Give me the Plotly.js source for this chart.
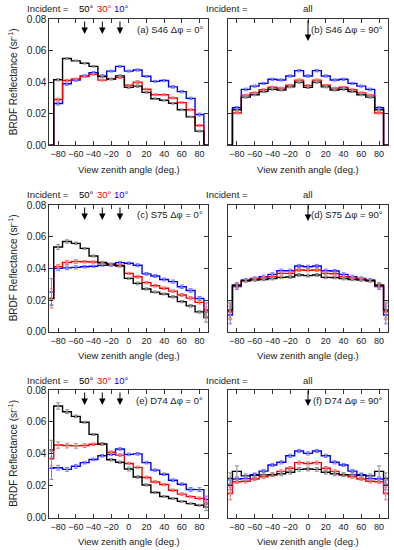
<!DOCTYPE html>
<html><head><meta charset="utf-8">
<script src="https://cdn.plot.ly/plotly-3.0.1.min.js"></script>
<style>html,body{margin:0;padding:0;background:#fff}#chart{width:394px;height:550px}</style>
</head><body><div id="chart"></div>
<script>
// Bin edges (deg): edge half-bins at ±87.5, then 10-degree bins centred on -80..80
const binEdges = [-90,-85,-75,-65,-55,-45,-35,-25,-15,-5,5,15,25,35,45,55,65,75,85,90];
const xTickVals = [-80,-60,-40,-20,0,20,40,60,80];
const incidentAngles = [50,30,10];

// (a) S46, dphi = 0
const aBlack = [0,0.0415,0.055,0.0535,0.052,0.050,0.0435,0.042,0.044,0.0367,0.0375,0.0335,0.0295,0.0285,0.0266,0.0225,0.018,0.009,0];
const aRed   = [0,0.029,0.041,0.042,0.0435,0.045,0.0413,0.042,0.043,0.038,0.040,0.0355,0.032,0.032,0.030,0.027,0.0225,0.0125,0];
const aBlue  = [0,0.0265,0.039,0.0413,0.044,0.046,0.044,0.047,0.050,0.047,0.0477,0.0437,0.0405,0.041,0.037,0.034,0.0297,0.0195,0];
const aBlackErr = [0,0.0007,0.0005,0.0005,0.0005,0.0005,0.0006,0.0005,0.0006,0.0006,0.0008,0.0005,0.0005,0.0005,0.0005,0.0005,0.0005,0.0006,0];
const aRedErr   = [0,0.0008,0.0006,0.0006,0.0006,0.0006,0.0006,0.0006,0.0006,0.0006,0.0009,0.0006,0.0006,0.0006,0.0006,0.0006,0.0006,0.0007,0];
const aBlueErr  = [0,0.0010,0.0012,0.0008,0.0007,0.0007,0.0007,0.0006,0.0006,0.0006,0.0007,0.0006,0.0006,0.0007,0.0008,0.0008,0.0008,0.0009,0];

// (b) S46, dphi = 90
const bBlack = [0,0.0225,0.0305,0.032,0.034,0.0355,0.035,0.037,0.040,0.0367,0.040,0.037,0.035,0.0355,0.034,0.032,0.0305,0.0225,0];
const bRed   = [0,0.0205,0.0318,0.0332,0.0352,0.0368,0.0362,0.038,0.0413,0.0378,0.0413,0.038,0.0362,0.0368,0.0352,0.0332,0.0318,0.0205,0];
const bBlue  = [0,0.0238,0.0354,0.0375,0.0392,0.0418,0.0414,0.0439,0.0473,0.0439,0.0473,0.0439,0.0414,0.0418,0.0392,0.0375,0.0354,0.0238,0];
const bBlackErr = [0,0.0007,0.0006,0.0006,0.0006,0.0006,0.0006,0.0006,0.0007,0.0007,0.0007,0.0006,0.0006,0.0006,0.0006,0.0006,0.0006,0.0007,0];
const bRedErr   = [0,0.0007,0.0006,0.0006,0.0006,0.0006,0.0006,0.0006,0.0007,0.0007,0.0007,0.0006,0.0006,0.0006,0.0006,0.0006,0.0006,0.0007,0];
const bBlueErr  = [0,0.0008,0.0008,0.0007,0.0007,0.0007,0.0007,0.0007,0.0008,0.0008,0.0008,0.0007,0.0007,0.0007,0.0007,0.0007,0.0008,0.0008,0];

// (c) S75, dphi = 0
const cBlack = [0.021,0.0535,0.057,0.0558,0.0526,0.0478,0.0437,0.0427,0.0415,0.0337,0.0305,0.027,0.025,0.0238,0.022,0.019,0.0163,0.0125,0.009];
const cRed   = [0.021,0.041,0.0437,0.0443,0.0442,0.044,0.0433,0.0425,0.042,0.0368,0.0347,0.031,0.029,0.0274,0.0256,0.0232,0.0212,0.0185,0.0125];
const cBlue  = [0.025,0.040,0.0403,0.0406,0.041,0.0413,0.042,0.042,0.0436,0.0432,0.042,0.0365,0.0352,0.033,0.0316,0.0284,0.026,0.021,0.0137];
const cBlackErr = [0.004,0.0015,0.001,0.0008,0.0006,0.0006,0.0007,0.0006,0.0008,0.0006,0.0009,0.0007,0.0006,0.0006,0.0007,0.0007,0.0008,0.0008,0.003];
const cRedErr   = [0.006,0.0015,0.0013,0.0012,0.0008,0.0008,0.0008,0.0008,0.0008,0.0007,0.0009,0.0008,0.0008,0.0008,0.0008,0.0009,0.001,0.001,0.003];
const cBlueErr  = [0.0085,0.0015,0.0012,0.001,0.0008,0.0007,0.0007,0.0008,0.0008,0.0008,0.0009,0.0009,0.0009,0.0009,0.001,0.0011,0.0012,0.0012,0.0045];

// (d) S75, dphi = 90
const dBlack = [0.0137,0.0295,0.0322,0.0326,0.033,0.0335,0.0343,0.0345,0.0358,0.0354,0.0358,0.0343,0.0342,0.0335,0.033,0.0326,0.0322,0.0295,0.0137];
const dRed   = [0.0126,0.029,0.0322,0.0333,0.034,0.0347,0.0368,0.0368,0.039,0.0388,0.039,0.0368,0.0366,0.0347,0.034,0.0333,0.0322,0.029,0.0126];
const dBlue  = [0.0105,0.0285,0.0326,0.0337,0.0347,0.0362,0.0385,0.0385,0.0415,0.041,0.0415,0.0385,0.0383,0.0362,0.0347,0.0337,0.0326,0.0285,0.0105];
const dBlackErr = [0.005,0.0015,0.0008,0.0008,0.0008,0.0008,0.0008,0.0008,0.0009,0.0009,0.0009,0.0008,0.0008,0.0008,0.0008,0.0008,0.0008,0.0015,0.005];
const dRedErr   = [0.005,0.0015,0.0009,0.0009,0.0009,0.0009,0.0009,0.0009,0.001,0.001,0.001,0.0009,0.0009,0.0009,0.0009,0.0009,0.0009,0.0015,0.005];
const dBlueErr  = [0.0055,0.0018,0.001,0.001,0.001,0.001,0.001,0.001,0.001,0.001,0.001,0.001,0.001,0.001,0.001,0.001,0.001,0.0018,0.0055];

// (e) D74, dphi = 0
const eBlack = [0.0425,0.070,0.0664,0.0635,0.0598,0.0522,0.0462,0.0363,0.0347,0.0305,0.0255,0.0205,0.0158,0.0133,0.012,0.0102,0.0088,0.0078,0.0065];
const eRed   = [0.037,0.0455,0.0452,0.045,0.0452,0.046,0.0462,0.041,0.0392,0.034,0.0315,0.0252,0.0224,0.0208,0.0172,0.0148,0.0132,0.0121,0.0086];
const eBlue  = [0.031,0.0313,0.0303,0.0322,0.0345,0.0365,0.0388,0.0397,0.043,0.0397,0.040,0.0345,0.0298,0.0272,0.0235,0.021,0.0177,0.0176,0.0115];
const eBlackErr = [0.006,0.002,0.0012,0.0008,0.0006,0.0006,0.0008,0.0008,0.0008,0.0012,0.0008,0.0007,0.0006,0.0005,0.0005,0.0005,0.0005,0.0006,0.002];
const eRedErr   = [0.0045,0.002,0.0015,0.0015,0.0012,0.0008,0.0008,0.0008,0.0008,0.0008,0.0008,0.0008,0.0008,0.0008,0.0008,0.0008,0.0008,0.0009,0.002];
const eBlueErr  = [0.007,0.0015,0.0012,0.0012,0.0008,0.0008,0.0008,0.0008,0.0008,0.0008,0.0008,0.0008,0.0008,0.0008,0.0008,0.0008,0.0012,0.0012,0.002];

// (f) D74, dphi = 90
const fBlack = [0.0246,0.029,0.0262,0.0265,0.0268,0.027,0.0275,0.0285,0.0303,0.0305,0.0303,0.0285,0.0275,0.027,0.0268,0.0265,0.0262,0.029,0.0246];
const fRed   = [0.0152,0.0225,0.0228,0.0242,0.0257,0.0267,0.029,0.031,0.0345,0.034,0.0345,0.031,0.029,0.0267,0.0257,0.0242,0.0228,0.0225,0.0152];
const fBlue  = [0.0205,0.0242,0.0245,0.027,0.0292,0.033,0.0347,0.0388,0.0418,0.0403,0.0418,0.0388,0.0347,0.033,0.0292,0.027,0.0245,0.0242,0.0205];
const fBlackErr = [0.0035,0.0035,0.0012,0.0012,0.0012,0.0012,0.0012,0.0012,0.0012,0.0012,0.0012,0.0012,0.0012,0.0012,0.0012,0.0012,0.0012,0.0035,0.0035];
const fRedErr   = [0.004,0.0012,0.001,0.001,0.001,0.001,0.001,0.001,0.001,0.001,0.001,0.001,0.001,0.001,0.001,0.001,0.001,0.0012,0.004];
const fBlueErr  = [0.003,0.0012,0.001,0.001,0.001,0.001,0.001,0.001,0.001,0.001,0.001,0.001,0.001,0.001,0.001,0.001,0.001,0.0012,0.003];

const panelLabels = ['(a) S46 Δφ = 0°','(b) S46 Δφ = 90°','(c) S75 Δφ = 0°','(d) S75 Δφ = 90°','(e) D74 Δφ = 0°','(f) D74 Δφ = 90°'];

const panels = [
  {black:aBlack,red:aRed,blue:aBlue,be:aBlackErr,re:aRedErr,ue:aBlueErr},
  {black:bBlack,red:bRed,blue:bBlue,be:bBlackErr,re:bRedErr,ue:bBlueErr},
  {black:cBlack,red:cRed,blue:cBlue,be:cBlackErr,re:cRedErr,ue:cBlueErr},
  {black:dBlack,red:dRed,blue:dBlue,be:dBlackErr,re:dRedErr,ue:dBlueErr},
  {black:eBlack,red:eRed,blue:eBlue,be:eBlackErr,re:eRedErr,ue:eBlueErr},
  {black:fBlack,red:fRed,blue:fBlue,be:fBlackErr,re:fRedErr,ue:fBlueErr}
];

// ---- styling / geometry ----
const W = 394, H = 550;
const FONT = 'Liberation Sans, Arial, Helvetica, sans-serif';
const colPx = [[49.3,208.3],[228,388]];
const rowPx = [[19,145.3],[205,331.7],[390,517.7]];
const px2x = p => p / W;
const px2y = p => 1 - p / H;
const lineColors = {black:'#000000', red:'#ff0000', blue:'#0000ff'};
const errColors  = {black:'#8c8c8c', red:'#f07878', blue:'#7a7aff'};
const angleColors = ['#000000','#ff0000','#0000ff'];

const centers = binEdges.slice(0,-1).map((e,i)=>(e+binEdges[i+1])/2);

const traces = [];
const layout = {
  width: W, height: H, margin:{l:0,r:0,t:0,b:0},
  paper_bgcolor:'#fff', plot_bgcolor:'#fff', showlegend:false,
  font:{family:FONT, size:10, color:'#222'},
  annotations: []
};

panels.forEach((p, i) => {
  const n = i + 1, sfx = n === 1 ? '' : String(n);
  const col = i % 2, row = Math.floor(i / 2);
  const [x0, x1] = colPx[col], [y0, y1] = rowPx[row];
  layout['xaxis' + sfx] = {
    domain:[px2x(x0), px2x(x1)], range:[-90,90], anchor:'y' + sfx,
    tickvals: xTickVals, tickangle:0, ticks:'inside', ticklen:4, tickwidth:1, tickcolor:'#333',
    showline:true, linecolor:'#333', linewidth:1, mirror:'ticks',
    showgrid:false, zeroline:false, fixedrange:true,
    tickfont:{size:9, color:'#222', family:FONT}
  };
  layout['yaxis' + sfx] = {
    domain:[px2y(y1), px2y(y0)], range:[0,0.08], anchor:'x' + sfx,
    dtick:0.02, tick0:0, tickformat:'.2f', ticks:'inside', ticklen:4, tickwidth:1, tickcolor:'#333',
    showline:true, linecolor:'#333', linewidth:1, mirror:'ticks',
    showgrid:false, zeroline:false, fixedrange:true, showticklabels: col === 0,
    tickfont:{size:10, color:'#222', family:FONT}
  };
  ['blue','red','black'].forEach(k => {
    const v = p[k];
    traces.push({type:'scatter', mode:'lines', x:binEdges, y:v.concat([v[v.length-1]]),
      xaxis:'x'+sfx, yaxis:'y'+sfx, line:{shape:'hv', color:lineColors[k], width:1.4}, hoverinfo:'skip'});
  });
  [['blue','ue'],['red','re'],['black','be']].forEach(([k,ek]) => {
    const v = p[k], e = p[ek];
    traces.push({type:'scatter', mode:'markers', x:centers, y:v.map((val,j)=> e[j] > 0 ? val : null),
      xaxis:'x'+sfx, yaxis:'y'+sfx, marker:{size:2, color:errColors[k]},
      error_y:{type:'data', array:e, visible:true, color:errColors[k], thickness:1, width:2},
      hoverinfo:'skip'});
  });

  // texts
  const A = layout.annotations;
  A.push({xref:'paper', yref:'paper', x:px2x(x1 - 3), y:px2y(y0 + 10), xanchor:'right', yanchor:'middle',
    text:panelLabels[i], showarrow:false, font:{size:9.5, color:'#222', family:FONT}});
  A.push({xref:'paper', yref:'paper', x:px2x(x0 - 24), y:px2y(y0 - 10), xanchor:'left', yanchor:'middle',
    text:'Incident =', showarrow:false, font:{size:9.5, color:'#222', family:FONT}});
  A.push({xref:'paper', yref:'paper', x:px2x((x0 + x1) / 2), y:px2y(y1 + 24), xanchor:'center', yanchor:'middle',
    text:'View zenith angle (deg.)', showarrow:false, font:{size:9.5, color:'#222', family:FONT}});
  if (col === 0) {
    A.push({xref:'paper', yref:'paper', x:px2x(13), y:px2y((y0 + y1) / 2), xanchor:'center', yanchor:'middle',
      text:'BRDF Reflectance (sr<sup>-1</sup>)', textangle:-90, showarrow:false, font:{size:10, color:'#222', family:FONT}});
    incidentAngles.forEach((ang, j) => {
      A.push({xref:'x'+sfx, yref:'paper', x:-ang, y:px2y(y0 - 10), xanchor:'center', yanchor:'middle', xshift:2,
        text:ang + '°', showarrow:false, font:{size:9.5, color:angleColors[j], family:FONT}});
      A.push({xref:'x'+sfx, yref:'paper', x:-ang, y:px2y(y0 + 15), ax:0, ay:-14, text:'',
        showarrow:true, arrowhead:2, arrowsize:1.3, arrowwidth:1, arrowcolor:'#000'});
    });
  } else {
    A.push({xref:'x'+sfx, yref:'paper', x:0, y:px2y(y0 - 10), xanchor:'center', yanchor:'middle',
      text:'all', showarrow:false, font:{size:9.5, color:'#222', family:FONT}});
    A.push({xref:'x'+sfx, yref:'paper', x:0, y:px2y(y0 + (row === 0 ? 22 : 16)), ax:0, ay:(row === 0 ? -22 : -17), text:'',
      showarrow:true, arrowhead:2, arrowsize:1.3, arrowwidth:1, arrowcolor:'#000'});
  }
});

Plotly.newPlot('chart', traces, layout, {staticPlot:true, displayModeBar:false});
</script>
</body></html>
